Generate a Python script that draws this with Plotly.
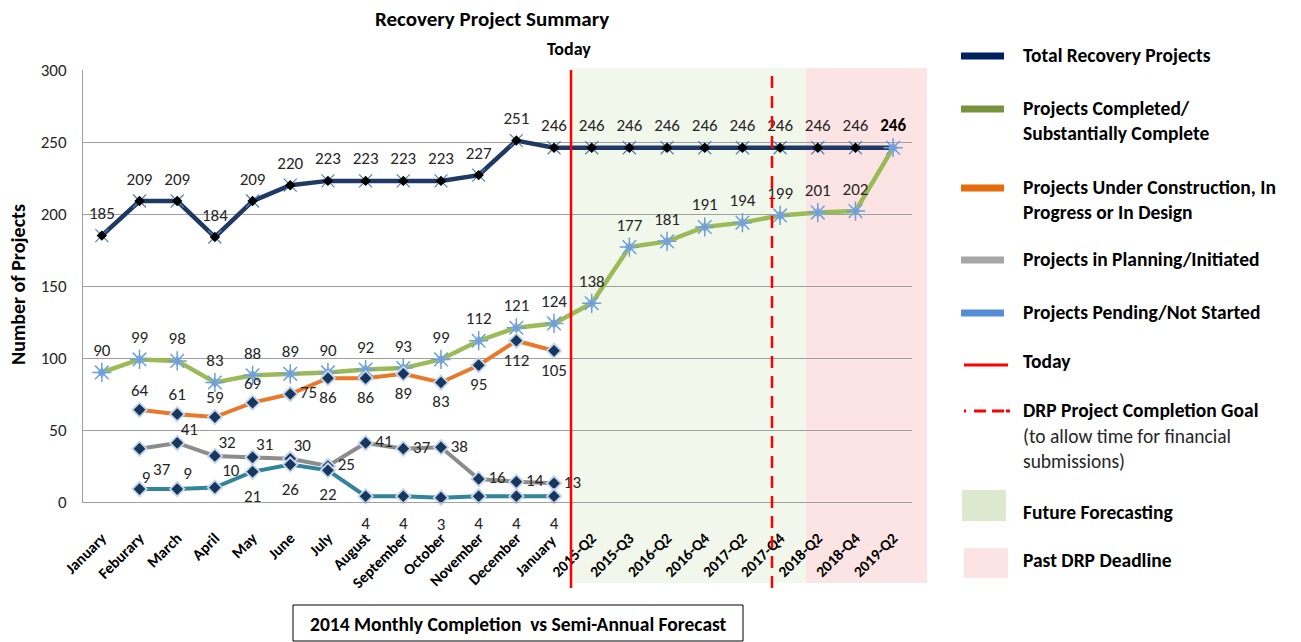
import plotly.graph_objects as go

categories = ["January", "Feburary", "March", "April", "May", "June", "July", "August",
              "September", "October", "November", "December", "January ",
              "2015-Q2", "2015-Q3", "2016-Q2", "2016-Q4", "2017-Q2", "2017-Q4",
              "2018-Q2", "2018-Q4", "2019-Q2"]

total = [185, 209, 209, 184, 209, 220, 223, 223, 223, 223, 227, 251, 246,
         246, 246, 246, 246, 246, 246, 246, 246, 246]
completed = [90, 99, 98, 83, 88, 89, 90, 92, 93, 99, 112, 121, 124,
             138, 177, 181, 191, 194, 199, 201, 202, 246]
# series that only exist Feb 2014 .. Jan 2015 (index 1..12)
month_idx = list(range(1, 13))
construction = [64, 61, 59, 69, 75, 86, 86, 89, 83, 95, 112, 105]
planning = [37, 41, 32, 31, 30, 25, 41, 37, 38, 16, 14, 13]
pending = [9, 9, 10, 21, 26, 22, 4, 4, 3, 4, 4, 4]

FONT = "Carlito, Lato, Liberation Sans, sans-serif"
W, H = 1301, 642
L, R, T, B = 83, 912, 70, 502
LBL = 17

def px(x):
    return (x - L) / (R - L)

def py(y):
    return (B - y) / (B - T)

xs = list(range(len(categories)))
fig = go.Figure()
common = dict(showlegend=False, hoverinfo="skip", cliponaxis=False)

def label_marker(size):
    return dict(size=size, color="rgba(0,0,0,0)", opacity=0, line=dict(width=0))

# Total
fig.add_trace(go.Scatter(x=xs, y=total, mode="lines", line=dict(color="#1F3864", width=4.5), **common))
fig.add_trace(go.Scatter(x=xs[:-1], y=total[:-1], mode="markers",
                         marker=dict(symbol="x-thin-open", size=13, color="#4F81BD",
                                     line=dict(color="#4F81BD", width=1.2)), **common))
fig.add_trace(go.Scatter(x=xs[:-1], y=total[:-1], mode="markers",
                         marker=dict(symbol="diamond", size=8, color="#000000"), **common))
fig.add_trace(go.Scatter(x=xs, y=total, mode="markers+text",
                         marker=label_marker(18),
                         text=[str(v) for v in total[:-1]] + ["<b>%d</b>" % total[-1]],
                         textposition="top center",
                         textfont=dict(family=FONT, size=LBL, color=["#262626"] * (len(total) - 1) + ["#000000"]),
                         **common))

# Completed
fig.add_trace(go.Scatter(x=xs, y=completed, mode="lines", line=dict(color="#9BBB59", width=4.5), **common))
fig.add_trace(go.Scatter(x=xs, y=completed, mode="markers",
                         marker=dict(symbol="diamond", size=8, color="#8DB4E2"), **common))
fig.add_trace(go.Scatter(x=xs, y=completed, mode="markers",
                         marker=dict(symbol="asterisk-open", size=16, color="#6F9FD8",
                                     line=dict(color="#6F9FD8", width=1.5)), **common))
fig.add_trace(go.Scatter(x=xs[:-1], y=completed[:-1], mode="markers+text",
                         marker=label_marker(18),
                         text=[str(v) for v in completed[:-1]], textposition="top center",
                         textfont=dict(family=FONT, size=LBL, color="#262626"), **common))

def low_series(vals, color, positions, pads):
    fig.add_trace(go.Scatter(x=month_idx, y=vals, mode="lines", line=dict(color=color, width=4), **common))
    fig.add_trace(go.Scatter(x=month_idx, y=vals, mode="markers",
                             marker=dict(symbol="diamond", size=13, color="#C5D5EA"), **common))
    fig.add_trace(go.Scatter(x=month_idx, y=vals, mode="markers",
                             marker=dict(symbol="diamond", size=9, color="#17375E"), **common))
    fig.add_trace(go.Scatter(x=month_idx, y=vals, mode="markers+text",
                             marker=label_marker(pads),
                             text=[str(v) for v in vals], textposition=positions,
                             textfont=dict(family=FONT, size=LBL, color="#262626"), **common))

low_series(planning, "#8C8C8C",
           ["bottom right", "top right", "top right", "top right", "top right", "middle right",
            "middle right", "middle right", "middle right", "middle right", "middle right", "middle right"],
           [20, 4, 4, 4, 4, 14, 14, 14, 14, 14, 14, 14])
low_series(pending, "#31849B",
           ["top right", "top right", "top right", "bottom center", "bottom center", "bottom center",
            "bottom center", "bottom center", "bottom center", "bottom center", "bottom center", "bottom center"],
           [2, 8, 10, 26, 26, 26, 30, 30, 30, 30, 30, 30])
low_series(construction, "#E8782A",
           ["top center", "top center", "top center", "top center", "middle right", "bottom center",
            "bottom center", "bottom center", "bottom center", "bottom center", "bottom center", "bottom center"],
           [14, 14, 14, 14, 14, 18, 18, 18, 18, 18, 18, 18])

shapes = []
# background regions
shapes.append(dict(type="rect", xref="paper", yref="paper", x0=px(572), x1=px(806), y0=py(583), y1=py(68),
                   fillcolor="#F2F7EC", line=dict(width=0), layer="below"))
shapes.append(dict(type="rect", xref="paper", yref="paper", x0=px(806), x1=px(927), y0=py(583), y1=py(68),
                   fillcolor="#FDE4E4", line=dict(width=0), layer="below"))
# today & goal lines
shapes.append(dict(type="line", xref="paper", yref="paper", x0=px(571), x1=px(571), y0=py(588), y1=py(70),
                   line=dict(color="#FF0000", width=2.5)))
shapes.append(dict(type="line", xref="paper", yref="paper", x0=px(772), x1=px(772), y0=py(588), y1=py(70),
                   line=dict(color="#FF0000", width=2.5, dash="12px,8px")))
# bottom caption box
shapes.append(dict(type="rect", xref="paper", yref="paper", x0=px(293), x1=px(743), y0=py(641), y1=py(605),
                   line=dict(color="#000000", width=1), fillcolor="rgba(0,0,0,0)"))

annotations = []
def ann(text, x, y, size=15, bold=True, xanchor="left", yanchor="middle", angle=0, color="#000000"):
    annotations.append(dict(text=("<b>%s</b>" % text) if bold else text, xref="paper", yref="paper",
                            x=px(x), y=py(y), xanchor=xanchor, yanchor=yanchor, showarrow=False,
                            textangle=angle, font=dict(family=FONT, size=size, color=color)))

ann("Recovery Project Summary", 492, 19, size=21, xanchor="center")
ann("Today", 569, 49, size=18, xanchor="center")
ann("Number of Projects", 18, 285, size=20, xanchor="center", angle=-90)
ann("2014 Monthly Completion  vs Semi-Annual Forecast", 518, 624, size=19.5, xanchor="center")

LEG = 19.5
# custom legend
legend_lines = [
    (56, "#002060", [("Total Recovery Projects", True)]),
    (109, "#77933C", [("Projects Completed/", True), ("Substantially Complete", True)]),
    (188, "#E46C0A", [("Projects Under Construction, In", True), ("Progress or In Design", True)]),
    (260, "#A6A6A6", [("Projects in Planning/Initiated", True)]),
    (313, "#558ED5", [("Projects Pending/Not Started", True)]),
]
for y, color, lines in legend_lines:
    shapes.append(dict(type="line", xref="paper", yref="paper", x0=px(961), x1=px(1004), y0=py(y), y1=py(y),
                       line=dict(color=color, width=7)))
    for i, (t, b) in enumerate(lines):
        ann(t, 1021, y - 1 + i * 25, size=LEG, bold=b)

shapes.append(dict(type="line", xref="paper", yref="paper", x0=px(964), x1=px(1008), y0=py(365), y1=py(365),
                   line=dict(color="#FF0000", width=3)))
ann("Today", 1021, 361, size=LEG)
shapes.append(dict(type="line", xref="paper", yref="paper", x0=px(964), x1=px(1010), y0=py(411), y1=py(411),
                   line=dict(color="#FF0000", width=3, dash="2px,8px,12px,6px,12px")))
ann("DRP Project Completion Goal", 1021, 410, size=LEG)
ann("(to allow time for financial", 1021, 436, size=LEG, bold=False, color="#262626")
ann("submissions)", 1021, 461, size=LEG, bold=False, color="#262626")
shapes.append(dict(type="rect", xref="paper", yref="paper", x0=px(962), x1=px(1006), y0=py(521), y1=py(490),
                   fillcolor="#DDE9CF", line=dict(width=0)))
ann("Future Forecasting", 1021, 512, size=LEG)
shapes.append(dict(type="rect", xref="paper", yref="paper", x0=px(964), x1=px(1008), y0=py(578), y1=py(548),
                   fillcolor="#FCE4E4", line=dict(width=0)))
ann("Past DRP Deadline", 1021, 560, size=LEG)

fig.update_layout(
    width=W, height=H,
    margin=dict(l=L, r=W - R, t=T, b=H - B, autoexpand=False),
    plot_bgcolor="rgba(0,0,0,0)", paper_bgcolor="#FFFFFF",
    shapes=shapes, annotations=annotations,
    showlegend=False,
    font=dict(family=FONT),
    xaxis=dict(tickmode="array", tickvals=xs, ticktext=["<b>%s</b>" % c for c in categories],
               range=[-0.5, len(categories) - 0.5], tickangle=-45,
               tickfont=dict(family=FONT, size=15.5, color="#000000"),
               ticklabelstandoff=20,
               showgrid=False, showline=True, linecolor="#A0A0A0", linewidth=1, zeroline=False, ticks=""),
    yaxis=dict(range=[0, 300], tickvals=[0, 50, 100, 150, 200, 250, 300],
               tickfont=dict(family=FONT, size=17, color="#262626"),
               ticklabelstandoff=12,
               showgrid=True, gridcolor="#A0A0A0", gridwidth=1, showline=True, linecolor="#A0A0A0",
               zeroline=False, ticks="", ticklen=0),
)

fig.write_html("out.html", config={"displayModeBar": False},
               post_script="document.body.style.margin='0';")
